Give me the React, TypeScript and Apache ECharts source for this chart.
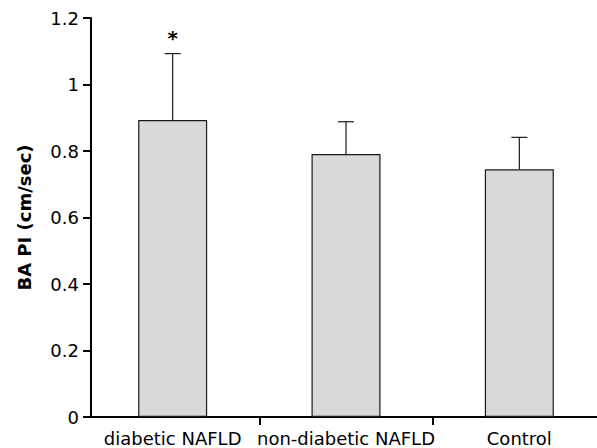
import React, { useEffect, useRef } from "react";
import * as echarts from "echarts";

const categories = ["diabetic NAFLD", "non-diabetic NAFLD", "Control"];
const means = [0.893, 0.791, 0.745];
const errorTops = [1.093, 0.888, 0.841];
const significance = ["*", "", ""];
const yTicks = { min: 0, max: 1.2, interval: 0.2 };
const yName = "BA PI (cm/sec)";

export default function App() {
  const ref = useRef<HTMLDivElement>(null);
  useEffect(() => {
    if (!ref.current) return;
    const chart = echarts.init(ref.current, null, { renderer: "svg" });
    const font = "DejaVu Sans, Liberation Sans, Arial, sans-serif";
    chart.setOption({
      animation: false,
      grid: { left: 86, width: 520, top: 18, bottom: 31, containLabel: false },
      xAxis: {
        type: "category",
        data: categories,
        boundaryGap: true,
        axisLine: { lineStyle: { color: "#000", width: 2 } },
        axisTick: {
          show: true,
          length: 8,
          lineStyle: { color: "#000", width: 2 },
          interval: (index: number) => index !== 0,
        },
        axisLabel: { color: "#000", fontSize: 18, fontFamily: font, margin: 12, interval: 0 },
      },
      yAxis: {
        type: "value",
        min: yTicks.min,
        max: yTicks.max,
        interval: yTicks.interval,
        offset: -5,
        name: yName,
        nameLocation: "middle",
        nameGap: 58,
        nameTextStyle: { color: "#000", fontSize: 18, fontWeight: "bold", fontFamily: font },
        splitLine: { show: false },
        axisLine: { show: true, lineStyle: { color: "#000", width: 2 } },
        axisTick: { show: true, length: 8, lineStyle: { color: "#000", width: 2 } },
        axisLabel: { color: "#000", fontSize: 18, fontFamily: font, margin: 12 },
      },
      series: [
        {
          type: "bar",
          data: means,
          barWidth: 69,
          itemStyle: { color: "#d9d9d9", borderColor: "#1a1a1a", borderWidth: 1.2 },
          z: 2,
        },
        {
          type: "custom",
          z: 1,
          data: means.map((m, i) => [i, m, errorTops[i]]),
          renderItem: (params: any, api: any) => {
            const i = api.value(0);
            const base = api.coord([i, api.value(1)]);
            const top = api.coord([i, api.value(2)]);
            const half = 8;
            const children: any[] = [
              {
                type: "line",
                shape: { x1: base[0], y1: base[1], x2: top[0], y2: top[1] },
                style: { stroke: "#1a1a1a", lineWidth: 1.2 },
              },
              {
                type: "line",
                shape: { x1: top[0] - half, y1: top[1], x2: top[0] + half, y2: top[1] },
                style: { stroke: "#1a1a1a", lineWidth: 1.2 },
              },
            ];
            const sig = significance[params.dataIndex];
            if (sig) {
              children.push({
                type: "text",
                x: top[0],
                y: top[1] - 6,
                style: {
                  text: sig,
                  fill: "#000",
                  font: `bold 20px ${font}`,
                  align: "center",
                  verticalAlign: "bottom",
                },
              });
            }
            return { type: "group", children };
          },
        },
      ],
    });
    return () => chart.dispose();
  }, []);
  return (
    <div
      style={{
        position: "fixed",
        left: 0,
        top: 0,
        width: 597,
        height: 448,
        overflow: "hidden",
        background: "#fff",
      }}
    >
      <div ref={ref} style={{ width: 620, height: 448 }} />
    </div>
  );
}
